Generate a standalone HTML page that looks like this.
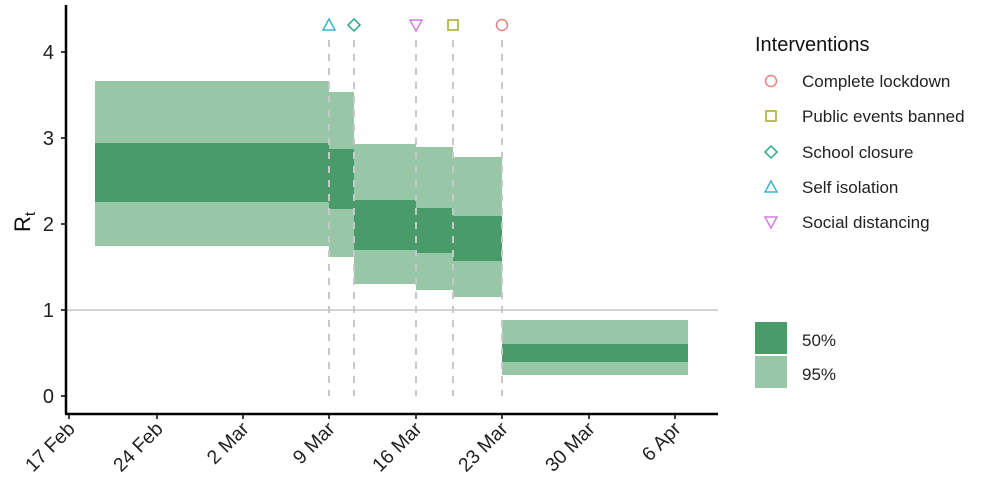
<!DOCTYPE html>
<html><head><style>body{margin:0;background:#fff}</style></head><body>
<svg width="1000" height="497" xmlns="http://www.w3.org/2000/svg" font-family="Liberation Sans, sans-serif">
<rect width="1000" height="497" fill="#fff"/>
<g fill="#98c7a7">
<rect x="95" y="81" width="234" height="165"/>
<rect x="329" y="92" width="25" height="165"/>
<rect x="354" y="144" width="62" height="140"/>
<rect x="416" y="147" width="37" height="143"/>
<rect x="453" y="157" width="49" height="140"/>
<rect x="502" y="320" width="186" height="55"/>
</g>
<g fill="#4a9b6a">
<rect x="95" y="143" width="234" height="59"/>
<rect x="329" y="149" width="25" height="60"/>
<rect x="354" y="200" width="62" height="50"/>
<rect x="416" y="208" width="37" height="45"/>
<rect x="453" y="216" width="49" height="45"/>
<rect x="502" y="344" width="186" height="18"/>
</g>
<line x1="66" y1="310" x2="718" y2="310" stroke="#aaa" stroke-width="1"/>
<g stroke="#c8c8c8" stroke-width="2" stroke-dasharray="7,7">
<line x1="329" y1="40" x2="329" y2="396"/><line x1="354" y1="40" x2="354" y2="396"/>
<line x1="416" y1="40" x2="416" y2="396"/><line x1="453" y1="40" x2="453" y2="396"/>
<line x1="502" y1="40" x2="502" y2="396"/>
</g>
<g fill="none" stroke-width="1.5">
<polygon points="329,19 335,30 323,30" stroke="#3bb6d0"/>
<polygon points="354,19 360,25 354,31 348,25" stroke="#2aa88a"/>
<polygon points="416,31 422,20 410,20" stroke="#d27ee0"/>
<rect x="448" y="20" width="10" height="10" stroke="#a8a820"/>
<circle cx="502" cy="25" r="5.5" stroke="#e88080"/>
</g>
<g stroke="#000" stroke-width="2.5">
<line x1="66" y1="5" x2="66" y2="414"/><line x1="65" y1="414" x2="718" y2="414"/>
</g>
<g stroke="#000" stroke-width="1.5">
<line x1="61" y1="52" x2="66" y2="52"/><line x1="61" y1="138" x2="66" y2="138"/>
<line x1="61" y1="224" x2="66" y2="224"/><line x1="61" y1="310" x2="66" y2="310"/>
<line x1="61" y1="396" x2="66" y2="396"/>
<line x1="69" y1="414" x2="69" y2="419"/><line x1="157" y1="414" x2="157" y2="419"/>
<line x1="243" y1="414" x2="243" y2="419"/><line x1="329" y1="414" x2="329" y2="419"/>
<line x1="416" y1="414" x2="416" y2="419"/><line x1="502" y1="414" x2="502" y2="419"/>
<line x1="589" y1="414" x2="589" y2="419"/><line x1="675" y1="414" x2="675" y2="419"/>
</g>
<g font-size="20" text-anchor="end" fill="#222">
<text x="54" y="59">4</text><text x="54" y="145">3</text><text x="54" y="231">2</text>
<text x="54" y="317">1</text><text x="54" y="403">0</text>
</g>
<text transform="translate(30,232) rotate(-90)" font-size="22" fill="#111">R<tspan font-size="15" dy="5">t</tspan></text>
<g font-size="19.5" text-anchor="end" fill="#222">
<text transform="translate(76,430) rotate(-45)">17 Feb</text>
<text transform="translate(164,430) rotate(-45)">24 Feb</text>
<text transform="translate(250,430) rotate(-45)">2 Mar</text>
<text transform="translate(336,430) rotate(-45)">9 Mar</text>
<text transform="translate(423,430) rotate(-45)">16 Mar</text>
<text transform="translate(509,430) rotate(-45)">23 Mar</text>
<text transform="translate(596,430) rotate(-45)">30 Mar</text>
<text transform="translate(682,430) rotate(-45)">6 Apr</text>
</g>
<text x="755" y="51" font-size="20" fill="#111">Interventions</text>
<g fill="none" stroke-width="1.5">
<circle cx="771" cy="81" r="5.5" stroke="#e88080"/>
<rect x="766" y="111" width="10" height="10" stroke="#a8a820"/>
<polygon points="771,146 777,152 771,158 765,152" stroke="#2aa88a"/>
<polygon points="771,181 777,192 765,192" stroke="#3bb6d0"/>
<polygon points="771,228 777,217 765,217" stroke="#d27ee0"/>
</g>
<g font-size="17" fill="#222">
<text x="802" y="87">Complete lockdown</text>
<text x="802" y="122">Public events banned</text>
<text x="802" y="158">School closure</text>
<text x="802" y="193">Self isolation</text>
<text x="802" y="228">Social distancing</text>
<text x="802" y="346">50%</text>
<text x="802" y="380">95%</text>
</g>
<rect x="755" y="322" width="32" height="32" fill="#4a9b6a"/>
<rect x="755" y="356" width="32" height="32" fill="#98c7a7"/>
</svg>
</body></html>
